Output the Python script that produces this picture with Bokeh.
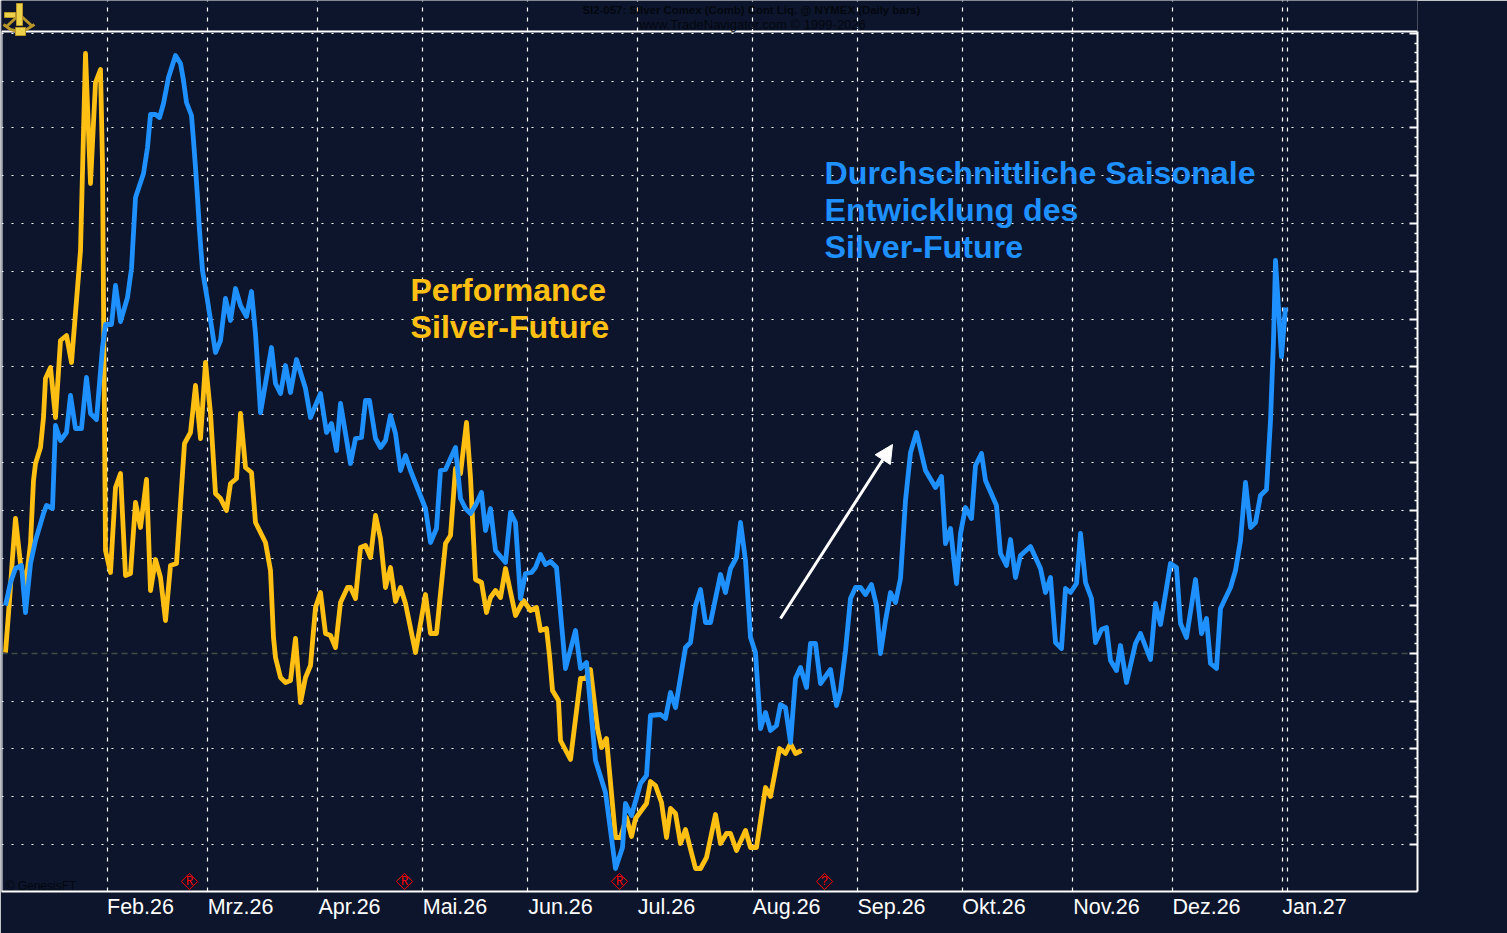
from bokeh.plotting import figure
from bokeh.embed import file_html
from bokeh.resources import INLINE
from bokeh.core.properties import value
from bokeh.models import (Range1d, FixedTicker, Grid, Label, Arrow, NormalHead)
import math

BG = "#0c152c"
BLUE = "#1e90ff"
ORANGE = "#ffc013"
DARK = "#04070f"

# Chart units: x = position along the session axis, y = level above the chart floor
blue_x = [5,10,15,21,25,30,35,43,46,52,55,60,66,70,75,81,86,90,96,102,105,111,115,120,127,131,135,143,147,150,155,159,163,168,175,180,183,186,191,193,195,197,199,202,207,215,220,225,230,235,240,246,251,255,260,266,271,275,280,285,290,296,305,310,320,326,331,336,340,350,355,361,365,369,375,380,385,390,395,400,405,410,425,430,436,440,445,455,460,465,470,475,481,485,490,495,505,510,515,520,525,531,535,540,545,550,556,565,575,580,586,595,605,615,622,625,631,640,646,650,660,665,670,675,685,690,695,700,705,710,720,725,730,736,740,745,750,755,760,765,770,776,780,785,790,795,800,806,810,815,820,830,836,840,845,850,855,860,865,871,876,880,885,890,895,900,905,910,916,925,935,941,945,950,956,960,965,971,975,981,985,996,1000,1006,1010,1015,1020,1030,1040,1045,1050,1055,1061,1065,1070,1076,1080,1085,1091,1095,1101,1106,1110,1116,1120,1126,1135,1140,1150,1155,1160,1170,1176,1180,1186,1195,1201,1206,1210,1216,1220,1230,1235,1240,1245,1250,1255,1260,1266,1270,1273,1275,1281,1285]
blue_y = [286,309,323,326,279,328,351,378,386,383,466,451,459,496,463,463,514,478,472,544,567,567,606,570,594,623,694,718,744,777,777,774,788,814,836,828,811,789,776,751,724,694,661,621,591,539,551,593,571,603,586,575,600,558,479,514,544,508,498,526,499,532,503,474,498,459,468,441,488,428,453,454,491,491,453,444,451,476,458,421,436,421,383,349,363,421,422,444,393,383,378,386,399,361,383,341,329,379,369,293,318,319,324,337,327,330,324,223,261,223,229,131,99,23,44,88,76,108,116,176,177,173,199,184,244,249,286,302,269,269,317,299,323,334,369,331,254,239,163,179,161,166,187,184,149,213,224,204,248,248,208,222,186,201,241,293,304,304,297,307,286,238,271,299,289,313,391,439,459,421,404,415,348,363,308,358,384,373,426,438,411,386,338,326,352,314,336,345,323,299,314,249,243,303,299,308,358,309,293,249,262,264,231,221,246,209,248,258,232,288,267,328,324,268,254,312,258,273,228,223,283,304,321,351,409,364,369,396,402,471,551,631,535,584]

orange_x = [5,9,12,15,20,25,30,33,35,40,43,45,50,55,60,66,71,76,80,85,90,95,100,102,103,105,110,115,120,125,130,135,140,146,150,155,160,165,170,176,184,190,195,200,205,210,215,220,226,230,236,240,245,251,255,265,270,273,275,280,285,290,295,300,305,310,315,320,325,330,335,340,347,350,355,360,365,370,375,380,385,390,395,400,405,415,425,430,436,445,450,455,460,466,470,475,481,486,490,495,500,505,515,523,530,536,540,546,549,552,558,560,570,580,585,590,597,601,606,615,620,626,631,635,646,650,655,661,666,670,675,680,685,695,700,706,715,720,726,730,736,745,750,756,765,770,779,785,790,795,801]
orange_y = [239,291,334,373,328,306,348,411,428,444,474,513,524,474,551,556,529,591,641,838,708,809,822,728,591,341,319,404,418,316,318,389,364,412,301,332,314,271,326,328,448,459,506,453,529,478,398,393,381,408,413,478,424,419,369,349,321,254,234,214,209,211,253,189,214,226,284,299,258,256,244,289,304,304,293,344,346,334,376,353,304,324,290,304,288,239,297,258,258,348,356,423,418,469,414,312,309,279,294,301,294,323,276,291,281,284,261,263,236,201,191,151,132,213,213,222,163,144,153,54,54,74,55,73,88,110,106,89,54,83,78,48,62,23,23,34,77,48,58,58,41,61,44,44,104,95,143,138,148,138,141]

month_labels = ["Feb.26","Mrz.26","Apr.26","Mai.26","Jun.26","Jul.26","Aug.26","Sep.26","Okt.26","Nov.26","Dez.26","Jan.27"]
month_label_pos = [140,240,349,454.5,560,666,786,891,993.5,1106,1206,1314]
month_lines = [107,207,317,422,527,637,752,857,962,1072,1172,1282,1287]
level_lines = [858,810,764,716,668,620,572,525,477,429,381,333,286,190,143,95,47]
zero_level = [238]
all_levels = sorted(level_lines + zero_level)
minor_levels = [a + (b - a) * k / 5 for a, b in zip(all_levels, all_levels[1:]) for k in range(1, 5)]
chart_top = 860
chart_right = 1417

flag_x = [189, 404, 619, 824]
flag_text = ["R", "R", "R", "?"]
flag_level = [10, 10, 10, 10]

p = figure(width=1507, height=933, output_backend="svg", toolbar_location=None,
           x_range=Range1d(1, chart_right), y_range=Range1d(0, 891),
           y_axis_location="right",
           background_fill_color=BG, border_fill_color=BG,
           min_border_left=1, min_border_right=90, min_border_top=0, min_border_bottom=42)
p.grid.visible = False
p.outline_line_color = None

# Axes
xa = p.xaxis[0]
xa.ticker = FixedTicker(ticks=month_label_pos)
xa.major_label_overrides = {k: v for k, v in zip(month_label_pos, month_labels)}
xa.axis_line_color = "white"
xa.axis_line_width = 2
xa.major_tick_line_color = None
xa.minor_tick_line_color = None
xa.major_tick_in = 0
xa.major_tick_out = 0
xa.major_label_standoff = 3
xa.major_label_text_color = "white"
xa.major_label_text_font = "Liberation Sans"
xa.major_label_text_font_size = "21.5px"

ya = p.yaxis[0]
ya.ticker = FixedTicker(ticks=all_levels, minor_ticks=minor_levels)
ya.bounds = (0, chart_top)
ya.major_label_overrides = {k: "" for k in all_levels}
ya.major_label_text_font_size = "0px"
ya.axis_line_color = "white"
ya.axis_line_width = 2
ya.major_tick_line_color = "white"
ya.major_tick_line_width = 2
ya.major_tick_in = 8
ya.major_tick_out = 0
ya.minor_tick_line_color = "white"
ya.minor_tick_line_width = 1.5
ya.minor_tick_in = 3
ya.minor_tick_out = 0

# Grids
p.add_layout(Grid(dimension=0, ticker=FixedTicker(ticks=month_lines), bounds=(0, chart_top),
                  grid_line_color="white", grid_line_width=1.2, grid_line_dash="4 6"))
p.add_layout(Grid(dimension=1, ticker=FixedTicker(ticks=level_lines), bounds=(5, 1400),
                  grid_line_color="white", grid_line_width=1.2, grid_line_dash="2 8"))
p.add_layout(Grid(dimension=1, ticker=FixedTicker(ticks=zero_level),
                  grid_line_color="#3f4b45", grid_line_width=1.5, grid_line_dash="6 4"))

# Frame edges (top, left)
p.segment([1, 1], [chart_top, 0], [chart_right, 1], [chart_top, chart_top], line_color="white", line_width=2)

# Series
p.line(orange_x, orange_y, line_color=ORANGE, line_width=4.8, line_join="round")
p.line(blue_x, blue_y, line_color=BLUE, line_width=4.8, line_join="round")

# Flags
p.scatter(flag_x, flag_level, marker="square", size=11.5, angle=math.pi / 4,
          fill_color=None, line_color="#ff0000", line_width=1)
p.text(flag_x, flag_level, text=flag_text, text_color="#ff0000", text_font=value("Liberation Mono"),
       text_font_size="12px", text_align="center", text_baseline="middle")

# Arrow
p.add_layout(Arrow(end=NormalHead(size=18, fill_color="white", line_color="white"),
                   x_start=780, y_start=273, x_end=892, y_end=447,
                   line_color="white", line_width=3))

def label(x, y, text, color, size, style="normal", font="Liberation Sans", align="left"):
    p.add_layout(Label(x=x, y=y, text=text, text_color=color, text_font_size=size,
                       text_font_style=style, text_font=font, text_align=align,
                       text_baseline="middle"))

label(824, 719, "Durchschnittliche Saisonale", BLUE, "32.2px", "bold")
label(824, 682, "Entwicklung des", BLUE, "32.2px", "bold")
label(824, 645, "Silver-Future", BLUE, "32.2px", "bold")
label(410, 602, "Performance", ORANGE, "32px", "bold")
label(410, 565, "Silver-Future", ORANGE, "32.2px", "bold")

label(754, 882, "SI2-057:  Silver Comex (Comb) Cont Liq. @ NYMEX  (Daily bars)", DARK, "11.4px", "bold", align="center")
label(752, 867, "www.TradeNavigator.com © 1999-2026", DARK, "13px", align="center")
label(5, 6, "© GenesisFT", DARK, "12px")
label(1, -35, "CS Investor", DARK, "11px", font="Liberation Mono")

# Sextant emblem
GOLD = "#ecd24a"
SHADE = "#b8962a"
emblem_fill_x = [[4, 15, 15, 4], [16, 22, 22, 16], [15, 25, 25, 15]]
emblem_fill_y = [[879, 879, 874, 874], [888, 888, 866, 866], [864, 864, 856, 856]]
p.multi_line([[3, 10, 18, 26, 34], [18, 6], [20, 31]],
             [[867, 862, 860, 862, 867], [876, 865], [876, 866]],
             line_color=SHADE, line_width=3)
p.patches(emblem_fill_x, emblem_fill_y, fill_color=GOLD, line_color=SHADE, line_width=1)

open("out.html", "w").write(file_html(p, INLINE))
